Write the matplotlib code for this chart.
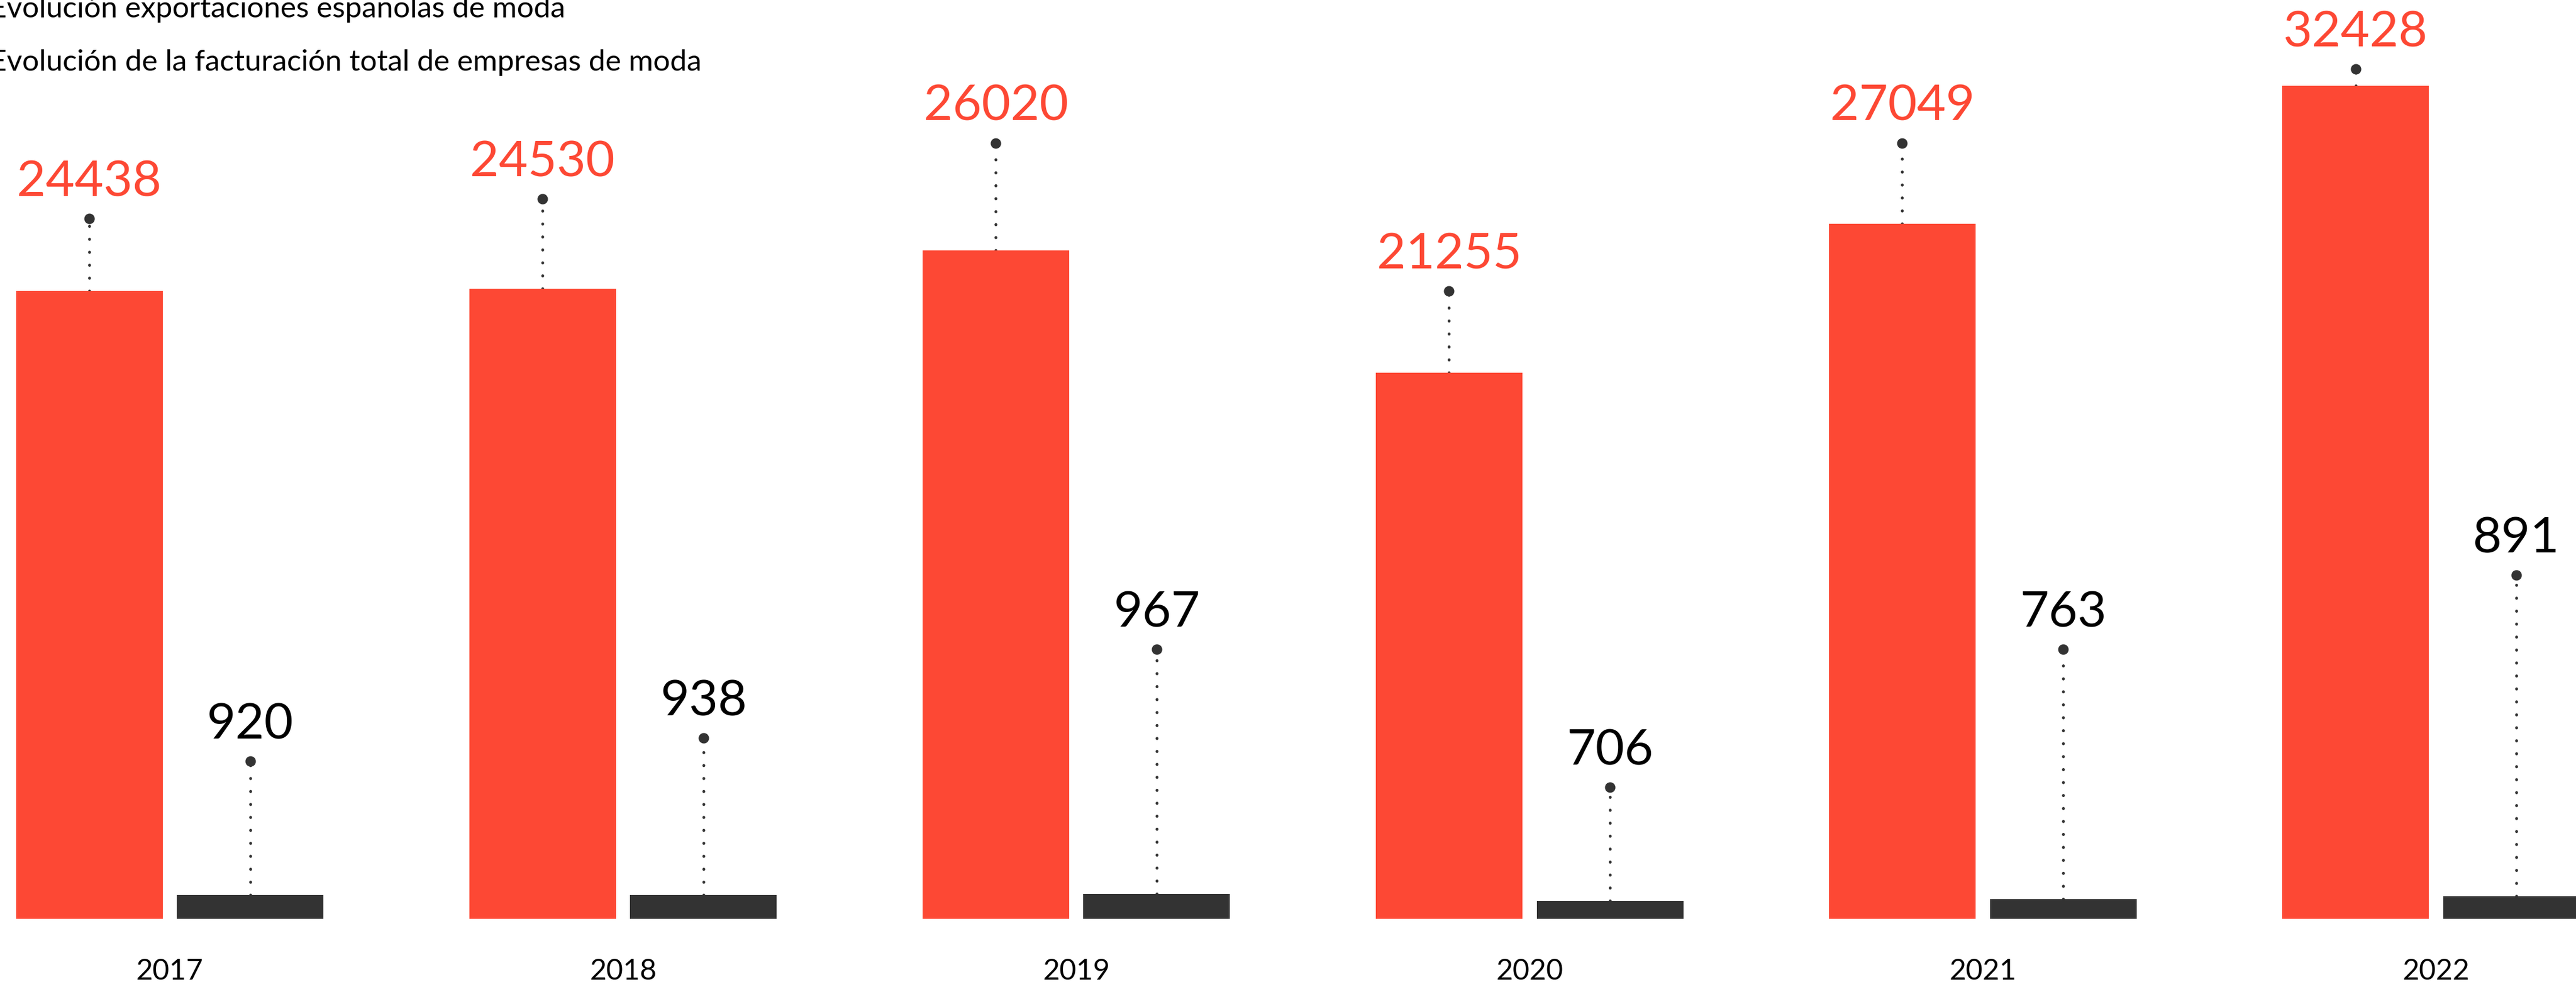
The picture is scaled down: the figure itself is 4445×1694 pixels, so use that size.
import numpy as np
import matplotlib
matplotlib.use("Agg")
import matplotlib.pyplot as plt

plt.rcParams['font.family'] = ['Lato', 'DejaVu Sans']

# data
years = ['2017', '2018', '2019', '2020', '2021', '2022']
export_vals = [24438, 24530, 26020, 21255, 27049, 32428]
turnover_vals = [920, 938, 967, 706, 763, 891]
# heights where the lollipop dots sit (same y units as the bars)
export_dot = [27250, 28020, 30200, 24440, 30200, 33070]
turnover_dot = [6140, 7040, 10490, 5120, 10490, 13370]

legend_labels = ['Evolución exportaciones españolas de moda',
                 'Evolución de la facturación total de empresas de moda']

RED = '#fd4834'
DARK = '#333333'

fig = plt.figure(figsize=(44.45, 16.94), dpi=100)
ax = fig.add_axes([0, 0.0643, 1, 0.9357])

x = np.arange(len(years))
off = 0.1775
w = 0.3235

ax.bar(x - off, export_vals, width=w, color=RED, zorder=2)
ax.bar(x + off, turnover_vals, width=w, color=DARK, zorder=2)

dots = (0, (0.1, 4.5))  # round dots
for i in range(len(years)):
    # red lollipop
    xr = x[i] - off
    ax.plot([xr, xr], [export_vals[i], export_dot[i]], color=DARK, lw=3.5,
            linestyle=dots, dash_capstyle='round', zorder=1)
    ax.plot(xr, export_dot[i], 'o', color=DARK, ms=12, zorder=3)
    ax.annotate(str(export_vals[i]), (xr, export_dot[i]), xytext=(0, 17),
                textcoords='offset points', ha='center', va='bottom',
                fontsize=62, color=RED)
    # dark lollipop
    xd = x[i] + off
    ax.plot([xd, xd], [turnover_vals[i], turnover_dot[i]], color=DARK, lw=3.5,
            linestyle=dots, dash_capstyle='round', zorder=1)
    ax.plot(xd, turnover_dot[i], 'o', color=DARK, ms=12, zorder=3)
    ax.annotate(str(turnover_vals[i]), (xd, turnover_dot[i]), xytext=(0, 17),
                textcoords='offset points', ha='center', va='bottom',
                fontsize=62, color='black')

ax.set_xlim(-0.3747, 5.309)
ax.set_ylim(0, 35763)
ax.axis('off')

for i in range(len(years)):
    ax.text(x[i], -0.0574, years[i], transform=ax.get_xaxis_transform(),
            ha='center', va='center', fontsize=36, color='black')

fig.text(-0.004, 0.982, legend_labels[0], ha='left', va='baseline', fontsize=37)
fig.text(-0.004, 0.928, legend_labels[1], ha='left', va='baseline', fontsize=37)

fig.savefig('out.png', dpi=100)
